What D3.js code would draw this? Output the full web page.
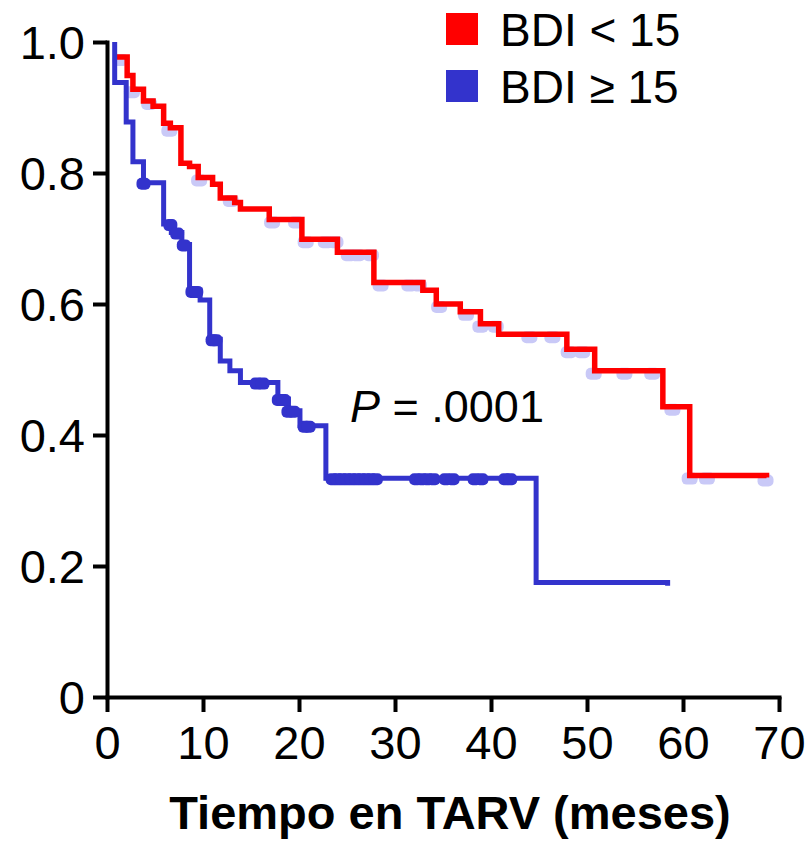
<!DOCTYPE html>
<meta charset="utf-8">
<style>
body { margin: 0; background: #fff; }
svg { font-family: "Liberation Sans", Arial, sans-serif; }
.axis path, .axis line { fill: none; stroke: #000; stroke-width: 4px; }
.axis text { fill: #000; font-size: 47px; }
</style>
<body>
<script src="https://d3js.org/d3.v7.min.js"></script>
<script>

// Kaplan-Meier steps: time (months) at which survival becomes value
var redTimes  = [0.9, 2.1, 2.7, 3.8, 4.8, 5.9, 6.6, 7.7, 8.6, 9.5, 11.0, 11.8, 13.3, 13.9, 16.9, 20.3, 24.0, 27.8, 32.9, 34.3, 36.8, 38.9, 40.8, 47.9, 50.8, 57.9, 60.7, 68.7];
var redSurv   = [0.977, 0.949, 0.928, 0.910, 0.902, 0.876, 0.869, 0.815, 0.810, 0.793, 0.783, 0.762, 0.755, 0.745, 0.729, 0.699, 0.679, 0.633, 0.621, 0.600, 0.588, 0.570, 0.554, 0.531, 0.498, 0.443, 0.338, 0.335];
var blueTimes = [0.8, 0.8, 2.0, 2.7, 3.8, 5.9, 6.7, 7.8, 8.6, 9.7, 10.7, 11.8, 12.8, 13.9, 17.8, 18.9, 20.1, 22.8, 44.7, 58.4];
var blueSurv  = [1.0, 0.938, 0.878, 0.817, 0.785, 0.722, 0.709, 0.691, 0.620, 0.606, 0.546, 0.513, 0.498, 0.480, 0.455, 0.437, 0.414, 0.334, 0.175, 0.170];

// censored observations
var redCensT  = [1.5, 2.7, 4.5, 6.6, 9.7, 13.0, 17.3, 19.8, 20.8, 22.9, 23.9, 25.3, 26.2, 27.6, 28.6, 31.6, 32.6, 34.7, 37.5, 39.0, 40.6, 44.1, 46.5, 48.2, 49.6, 50.8, 54.0, 56.9, 59.0, 60.8, 62.6, 68.7];
var blueCensT = [3.8, 6.6, 7.3, 8.0, 8.9, 9.3, 11.0, 11.3, 15.6, 16.2, 17.9, 18.4, 18.9, 19.4, 20.6, 21.0, 23.5, 24.0, 24.5, 25.0, 25.5, 26.0, 26.5, 27.0, 27.5, 28.0, 32.2, 32.8, 33.4, 34.0, 35.3, 36.0, 38.3, 39.0, 41.5, 42.0];

var xTicks = [0, 10, 20, 30, 40, 50, 60, 70];
var yTicks = [0, 0.2, 0.4, 0.6, 0.8, 1.0];
var yTickLabels = ["0", "0.2", "0.4", "0.6", "0.8", "1.0"];
var legendLabels = ["BDI < 15", "BDI \u2265 15"];
var colors = ["#ff0000", "#3333cc"];

var svg = d3.select("body").append("svg")
    .attr("width", 807)
    .attr("height", 842);

var x = d3.scaleLinear().domain([0, 70]).range([107, 779]);
var y = d3.scaleLinear().domain([0, 1]).range([697, 42]);

var redPts = redTimes.map(function(t, i) { return [t, redSurv[i]]; });
var bluePts = blueTimes.map(function(t, i) { return [t, blueSurv[i]]; });

// survival value at time t (step function)
function survAt(pts, t) {
  var s = pts[0][1];
  pts.forEach(function(p) { if (p[0] <= t) s = p[1]; });
  return s;
}

// axes
svg.append("g")
    .attr("class", "y axis")
    .attr("transform", "translate(107,0)")
    .call(d3.axisLeft(y).tickValues(yTicks).tickSize(14).tickSizeOuter(0).tickPadding(8)
      .tickFormat(function(d, i) { return yTickLabels[i]; }));

svg.append("g")
    .attr("class", "x axis")
    .attr("transform", "translate(0,697)")
    .call(d3.axisBottom(x).tickValues(xTicks).tickSize(15).tickSizeOuter(0).tickPadding(14));

svg.selectAll(".axis path").attr("stroke-linecap", "square");
svg.selectAll(".y.axis text").attr("dy", "0.36em");

var line = d3.line()
    .x(function(d) { return x(d[0]); })
    .y(function(d) { return y(d[1]); })
    .curve(d3.curveStepAfter);

// light censor marks of the red group (drawn beneath)
svg.selectAll(".rc")
    .data(redCensT)
  .enter().append("rect")
    .attr("class", "rc")
    .attr("x", function(d) { return x(d) - 9; })
    .attr("y", function(d) { return y(survAt(redPts, d)) - 3; })
    .attr("width", 16)
    .attr("height", 12)
    .attr("rx", 5)
    .style("fill", "#c9c9f7");

svg.append("path")
    .datum(redPts)
    .attr("d", line)
    .style("fill", "none")
    .style("stroke", colors[0])
    .style("stroke-width", 5.5)
    .style("stroke-linejoin", "miter");

svg.append("path")
    .datum(bluePts)
    .attr("d", line)
    .style("fill", "none")
    .style("stroke", colors[1])
    .style("stroke-width", 5)
    .style("stroke-linejoin", "miter");

svg.selectAll(".bc")
    .data(blueCensT)
  .enter().append("rect")
    .attr("class", "bc")
    .attr("x", function(d) { return x(d) - 7; })
    .attr("y", function(d) { return y(survAt(bluePts, d)) - 5; })
    .attr("width", 14)
    .attr("height", 12)
    .attr("rx", 5)
    .style("fill", colors[1]);

// p value
var pt = svg.append("text")
    .attr("x", 350)
    .attr("y", 422)
    .style("font-size", "45px");
pt.append("tspan").style("font-style", "italic").text("P");
pt.append("tspan").text(" = .0001");

// legend
var legend = svg.selectAll(".legend")
    .data(legendLabels)
  .enter().append("g")
    .attr("class", "legend")
    .attr("transform", function(d, i) { return "translate(446," + (13 + i * 57) + ")"; });

legend.append("rect")
    .attr("width", 32)
    .attr("height", 32)
    .style("fill", function(d, i) { return colors[i]; });

legend.append("text")
    .attr("x", 54)
    .attr("y", 33)
    .style("font-size", "46px")
    .text(function(d) { return d; });

// x title
svg.append("text")
    .attr("x", 450)
    .attr("y", 829)
    .style("text-anchor", "middle")
    .style("font-size", "47px")
    .style("font-weight", "bold")
    .text("Tiempo en TARV (meses)");

</script>
